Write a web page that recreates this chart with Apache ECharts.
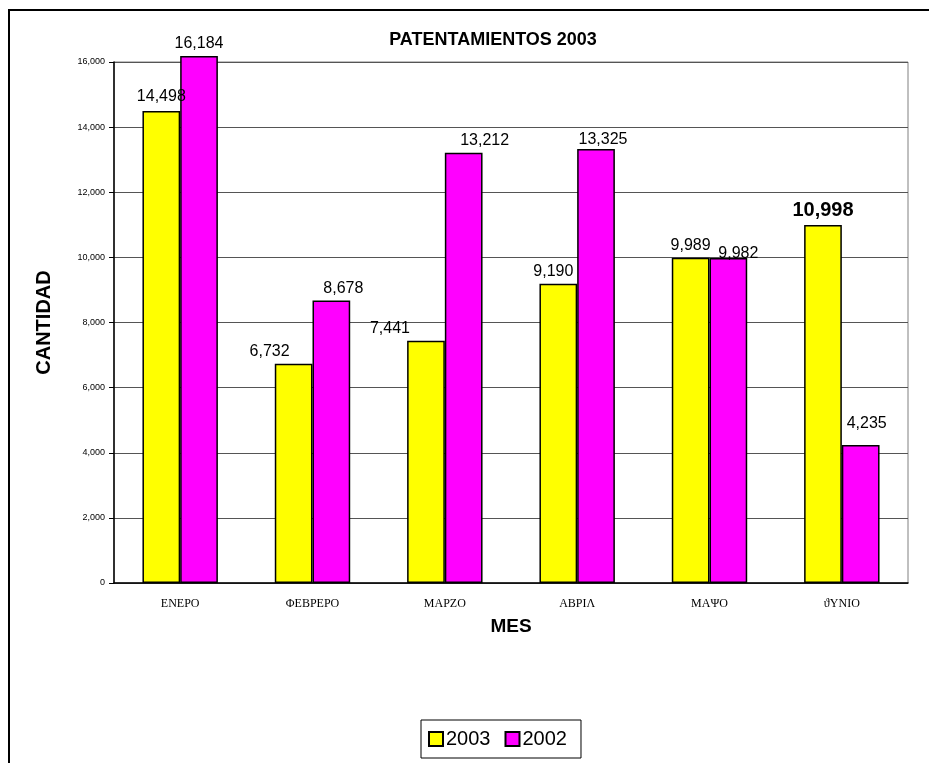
<!DOCTYPE html>
<html lang="es">
<head>
<meta charset="UTF-8">
<title>Patentamientos 2003</title>
<script src="https://cdn.jsdelivr.net/npm/echarts@6/dist/echarts.min.js"></script>
<style>
  body { margin: 0; padding: 0; background: #fff; }
  #chart { width: 929px; height: 763px; }
</style>
</head>
<body>
<div id="chart"></div>
<script>
// datos
var meses = ['ΕΝΕΡΟ', 'ΦΕΒΡΕΡΟ', 'ΜΑΡΖΟ', 'ΑΒΡΙΛ', 'ΜΑΨΟ', 'ϑΥΝΙΟ'];
var serie2003 = [14498, 6732, 7441, 9190, 9989, 10998];
var serie2002 = [16184, 8678, 13212, 13325, 9982, 4235];
var yTicks = [0, 2000, 4000, 6000, 8000, 10000, 12000, 14000, 16000];

var myChart = echarts.init(document.getElementById('chart'));

function fmt(v) {
  return v.toString().replace(/\B(?=(\d{3})+(?!\d))/g, ',');
}

// pequeños desplazamientos de etiquetas como en el original
var off2003 = [[0, -2], [-24, 0], [-36, 0], [-5, 0], [0, 0], [0, 0]];
var off2002 = [[0, 0], [12, 0], [21, 0], [7, 2], [10, 8], [6, -10]];

var labelBase = {
  show: true,
  position: 'top',
  distance: 4,
  color: '#000',
  fontFamily: 'Arial, "Liberation Sans", sans-serif',
  fontSize: 16,
  formatter: function (p) { return fmt(p.value); }
};

var d2003 = serie2003.map(function (v, i) {
  var item = { value: v, label: { offset: off2003[i] } };
  if (i === 5) {
    item.label.fontWeight = 'bold';
    item.label.fontSize = 20;
  }
  return item;
});
var d2002 = serie2002.map(function (v, i) {
  return { value: v, label: { offset: off2002[i] } };
});

myChart.setOption({
  animation: false,
  backgroundColor: '#fff',
  title: {
    text: 'PATENTAMIENTOS 2003',
    left: 488,
    top: 26,
    textAlign: 'center',
    textStyle: {
      fontFamily: 'Arial, "Liberation Sans", sans-serif',
      fontWeight: 'bold',
      fontSize: 18,
      color: '#000'
    }
  },
  graphic: [{
    type: 'rect',
    shape: { x: 9, y: 10, width: 1000, height: 1000 },
    style: { fill: 'none', stroke: '#000', lineWidth: 2 },
    silent: true
  }],
  legend: {
    left: 421,
    top: 720,
    padding: [9, 14, 9, 7],
    itemGap: 14,
    itemWidth: 14,
    itemHeight: 14,
    borderColor: '#000',
    borderWidth: 1,
    icon: 'rect',
    data: ['2003', '2002'],
    textStyle: {
      fontFamily: 'Arial, "Liberation Sans", sans-serif',
      fontSize: 20,
      color: '#000',
      padding: [0, 0, 0, -2]
    }
  },
  grid: {
    left: 114,
    right: 21,
    top: 62,
    bottom: 180,
    show: true,
    borderColor: '#808080',
    borderWidth: 1
  },
  xAxis: {
    type: 'category',
    data: meses,
    name: 'MES',
    nameLocation: 'middle',
    nameGap: 34,
    nameTextStyle: {
      fontFamily: 'Arial, "Liberation Sans", sans-serif',
      fontWeight: 'bold',
      fontSize: 19,
      color: '#000'
    },
    axisLine: { lineStyle: { color: '#000', width: 1.5 } },
    axisTick: { length: 5, lineStyle: { color: '#000' } },
    axisLabel: {
      margin: 15,
      color: '#000',
      fontFamily: '"Liberation Serif", "DejaVu Serif", serif',
      fontSize: 12
    }
  },
  yAxis: {
    type: 'value',
    min: 0,
    max: yTicks[yTicks.length - 1],
    interval: yTicks[1] - yTicks[0],
    name: 'CANTIDAD',
    nameLocation: 'middle',
    nameGap: 60,
    nameTextStyle: {
      fontFamily: 'Arial, "Liberation Sans", sans-serif',
      fontWeight: 'bold',
      fontSize: 20,
      color: '#000'
    },
    axisLine: { show: true, lineStyle: { color: '#000', width: 1.5 } },
    axisTick: { show: true, length: 5, lineStyle: { color: '#000' } },
    splitLine: { lineStyle: { color: '#555', width: 1 } },
    axisLabel: {
      margin: 9,
      color: '#000',
      fontFamily: 'Arial, "Liberation Sans", sans-serif',
      fontSize: 9,
      formatter: function (v) { return fmt(v); }
    }
  },
  series: [
    {
      name: '2003',
      type: 'bar',
      data: d2003,
      barGap: '0%',
      barCategoryGap: '43%',
      clip: false,
      itemStyle: { color: '#ffff00', borderColor: '#000', borderWidth: 1.5 },
      label: labelBase
    },
    {
      name: '2002',
      type: 'bar',
      data: d2002,
      clip: false,
      itemStyle: { color: '#ff00ff', borderColor: '#000', borderWidth: 1.5 },
      label: labelBase
    }
  ]
});
</script>
</body>
</html>
